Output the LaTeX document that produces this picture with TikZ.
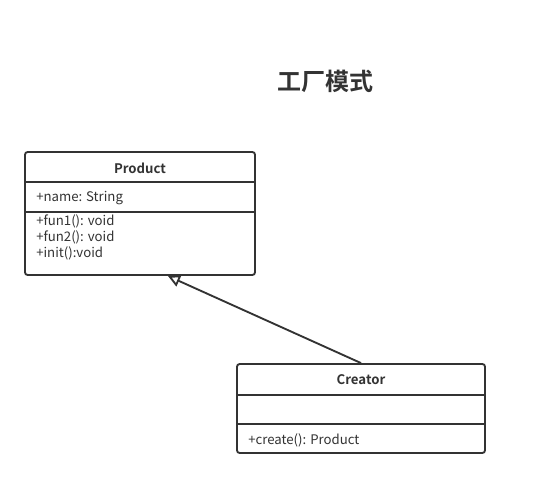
\documentclass[tikz,border=0pt]{standalone}
\usepackage{fontspec}
\setmainfont{Noto Sans CJK SC}[BoldFont={Noto Sans CJK SC Bold}]
\usetikzlibrary{arrows.meta}

\definecolor{umlline}{HTML}{333333}
\def\lw{1.4pt}
\def\fs{\fontsize{9.9pt}{12pt}\selectfont}

\tikzset{
  umlbox/.style={draw=umlline, line width=\lw, rounded corners=2pt, fill=white, inner sep=0pt},
  umltxt/.style={anchor=west, inner sep=0pt, text=umlline, font=\fs},
  umlhead/.style={inner sep=0pt, text=umlline, font=\fs\bfseries},
  umlsep/.style={draw=umlline, line width=\lw},
  inherit/.style={draw=umlline, line width=\lw, -{Triangle[open, length=9pt, width=9pt, fill=white]}}
}

\begin{document}
\begin{tikzpicture}[x=0.75pt, y=-0.75pt]
 \useasboundingbox (0,0) rectangle (545,479);

 % titel
 \node[text=umlline, font=\fontsize{18pt}{21pt}\selectfont\bfseries] (title) at (325,81) {工厂模式};

 % Product
 \node[umlbox, minimum width=172.5pt, minimum height=92.25pt] (product) at (140,213.5) {};
 \draw[umlsep] (product.west |- 0,182) -- (product.east |- 0,182);
 \draw[umlsep] (product.west |- 0,212) -- (product.east |- 0,212);
 \node[umlhead] (producthead) at (140,168) {Product};
 \node[umltxt] (pname) at (36,198) {+name: String};
 \node[umltxt] (pfun1) at (36,221) {+fun1(): void};
 \node[umltxt] (pfun2) at (36,237) {+fun2(): void};
 \node[umltxt] (pinit) at (36,253) {+init():void};

 % Creator
 \node[umlbox, minimum width=186pt, minimum height=66.75pt] (creator) at (361,408.5) {};
 \draw[umlsep] (creator.west |- 0,395) -- (creator.east |- 0,395);
 \draw[umlsep] (creator.west |- 0,424) -- (creator.east |- 0,424);
 \node[umlhead] (creatorhead) at (361,380) {Creator};
 \node[umltxt] (ccreate) at (248,440) {+create(): Product};

 % Vererbung
 \coordinate (tip) at (168,276);
 \draw[inherit] (creator.north) -- (tip);
\end{tikzpicture}
\end{document}
